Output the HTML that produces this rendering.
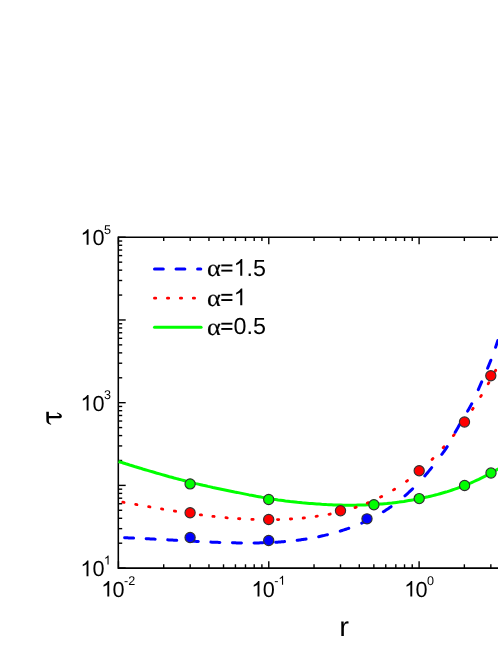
<!DOCTYPE html>
<html><head><meta charset="utf-8"><title>chart</title>
<style>
html,body{margin:0;padding:0;background:#fff;}
body{width:498px;height:645px;overflow:hidden;}
svg{display:block;will-change:transform;text-rendering:geometricPrecision;font-family:"Liberation Sans",sans-serif;}
</style></head><body>
<svg width="498" height="645" viewBox="0 0 498 645">
<rect width="498" height="645" fill="#fff"/>
<g stroke="#000" fill="none" stroke-linecap="butt">
<line x1="118.3" y1="236.4" x2="118.3" y2="568.95" stroke-width="1.55"/>
<line x1="118.3" y1="237.25" x2="503" y2="237.25" stroke-width="1.7"/>
<line x1="118.3" y1="568.1" x2="503" y2="568.1" stroke-width="1.7"/>
</g>
<g stroke="#000" stroke-width="1.4" fill="none">
<line x1="118.3" y1="568.10" x2="125.7" y2="568.10"/>
<line x1="118.3" y1="543.20" x2="122.2" y2="543.20"/>
<line x1="118.3" y1="528.64" x2="122.2" y2="528.64"/>
<line x1="118.3" y1="518.30" x2="122.2" y2="518.30"/>
<line x1="118.3" y1="510.29" x2="122.2" y2="510.29"/>
<line x1="118.3" y1="503.74" x2="122.2" y2="503.74"/>
<line x1="118.3" y1="498.20" x2="122.2" y2="498.20"/>
<line x1="118.3" y1="493.40" x2="122.2" y2="493.40"/>
<line x1="118.3" y1="489.17" x2="122.2" y2="489.17"/>
<line x1="118.3" y1="485.39" x2="125.7" y2="485.39"/>
<line x1="118.3" y1="460.49" x2="122.2" y2="460.49"/>
<line x1="118.3" y1="445.92" x2="122.2" y2="445.92"/>
<line x1="118.3" y1="435.59" x2="122.2" y2="435.59"/>
<line x1="118.3" y1="427.57" x2="122.2" y2="427.57"/>
<line x1="118.3" y1="421.02" x2="122.2" y2="421.02"/>
<line x1="118.3" y1="415.49" x2="122.2" y2="415.49"/>
<line x1="118.3" y1="410.69" x2="122.2" y2="410.69"/>
<line x1="118.3" y1="406.46" x2="122.2" y2="406.46"/>
<line x1="118.3" y1="402.68" x2="125.7" y2="402.68"/>
<line x1="118.3" y1="377.78" x2="122.2" y2="377.78"/>
<line x1="118.3" y1="363.21" x2="122.2" y2="363.21"/>
<line x1="118.3" y1="352.88" x2="122.2" y2="352.88"/>
<line x1="118.3" y1="344.86" x2="122.2" y2="344.86"/>
<line x1="118.3" y1="338.31" x2="122.2" y2="338.31"/>
<line x1="118.3" y1="332.77" x2="122.2" y2="332.77"/>
<line x1="118.3" y1="327.98" x2="122.2" y2="327.98"/>
<line x1="118.3" y1="323.75" x2="122.2" y2="323.75"/>
<line x1="118.3" y1="319.96" x2="125.7" y2="319.96"/>
<line x1="118.3" y1="295.06" x2="122.2" y2="295.06"/>
<line x1="118.3" y1="280.50" x2="122.2" y2="280.50"/>
<line x1="118.3" y1="270.16" x2="122.2" y2="270.16"/>
<line x1="118.3" y1="262.15" x2="122.2" y2="262.15"/>
<line x1="118.3" y1="255.60" x2="122.2" y2="255.60"/>
<line x1="118.3" y1="250.06" x2="122.2" y2="250.06"/>
<line x1="118.3" y1="245.27" x2="122.2" y2="245.27"/>
<line x1="118.3" y1="241.03" x2="122.2" y2="241.03"/>
<line x1="118.3" y1="237.25" x2="125.7" y2="237.25"/>
<line x1="118.45" y1="568.1" x2="118.45" y2="561.2"/>
<line x1="118.45" y1="237.25" x2="118.45" y2="244.15"/>
<line x1="163.70" y1="568.1" x2="163.70" y2="564.3000000000001"/>
<line x1="163.70" y1="237.25" x2="163.70" y2="241.05"/>
<line x1="190.18" y1="568.1" x2="190.18" y2="564.3000000000001"/>
<line x1="190.18" y1="237.25" x2="190.18" y2="241.05"/>
<line x1="208.96" y1="568.1" x2="208.96" y2="564.3000000000001"/>
<line x1="208.96" y1="237.25" x2="208.96" y2="241.05"/>
<line x1="223.53" y1="568.1" x2="223.53" y2="564.3000000000001"/>
<line x1="223.53" y1="237.25" x2="223.53" y2="241.05"/>
<line x1="235.43" y1="568.1" x2="235.43" y2="564.3000000000001"/>
<line x1="235.43" y1="237.25" x2="235.43" y2="241.05"/>
<line x1="245.49" y1="568.1" x2="245.49" y2="564.3000000000001"/>
<line x1="245.49" y1="237.25" x2="245.49" y2="241.05"/>
<line x1="254.21" y1="568.1" x2="254.21" y2="564.3000000000001"/>
<line x1="254.21" y1="237.25" x2="254.21" y2="241.05"/>
<line x1="261.90" y1="568.1" x2="261.90" y2="564.3000000000001"/>
<line x1="261.90" y1="237.25" x2="261.90" y2="241.05"/>
<line x1="268.78" y1="568.1" x2="268.78" y2="561.2"/>
<line x1="268.78" y1="237.25" x2="268.78" y2="244.15"/>
<line x1="314.03" y1="568.1" x2="314.03" y2="564.3000000000001"/>
<line x1="314.03" y1="237.25" x2="314.03" y2="241.05"/>
<line x1="340.51" y1="568.1" x2="340.51" y2="564.3000000000001"/>
<line x1="340.51" y1="237.25" x2="340.51" y2="241.05"/>
<line x1="359.29" y1="568.1" x2="359.29" y2="564.3000000000001"/>
<line x1="359.29" y1="237.25" x2="359.29" y2="241.05"/>
<line x1="373.86" y1="568.1" x2="373.86" y2="564.3000000000001"/>
<line x1="373.86" y1="237.25" x2="373.86" y2="241.05"/>
<line x1="385.76" y1="568.1" x2="385.76" y2="564.3000000000001"/>
<line x1="385.76" y1="237.25" x2="385.76" y2="241.05"/>
<line x1="395.82" y1="568.1" x2="395.82" y2="564.3000000000001"/>
<line x1="395.82" y1="237.25" x2="395.82" y2="241.05"/>
<line x1="404.54" y1="568.1" x2="404.54" y2="564.3000000000001"/>
<line x1="404.54" y1="237.25" x2="404.54" y2="241.05"/>
<line x1="412.23" y1="568.1" x2="412.23" y2="564.3000000000001"/>
<line x1="412.23" y1="237.25" x2="412.23" y2="241.05"/>
<line x1="419.11" y1="568.1" x2="419.11" y2="561.2"/>
<line x1="419.11" y1="237.25" x2="419.11" y2="244.15"/>
<line x1="464.36" y1="568.1" x2="464.36" y2="564.3000000000001"/>
<line x1="464.36" y1="237.25" x2="464.36" y2="241.05"/>
<line x1="490.84" y1="568.1" x2="490.84" y2="564.3000000000001"/>
<line x1="490.84" y1="237.25" x2="490.84" y2="241.05"/>
</g>
<g fill="none" stroke-width="3.0">
<path d="M118.5,461.5 L120.9,462.2 L123.3,463.0 L125.8,463.8 L128.2,464.5 L130.6,465.3 L133.0,466.0 L135.4,466.8 L137.8,467.5 L140.3,468.2 L142.7,469.0 L145.1,469.7 L147.5,470.4 L149.9,471.1 L152.4,471.8 L154.8,472.5 L157.2,473.3 L159.6,473.9 L162.0,474.6 L164.4,475.3 L166.9,476.0 L169.3,476.7 L171.7,477.3 L174.1,478.0 L176.5,478.6 L179.0,479.3 L181.4,479.9 L183.8,480.5 L186.2,481.2 L188.6,481.8 L191.0,482.4 L193.5,483.0 L195.9,483.6 L198.3,484.1 L200.7,484.7 L203.1,485.3 L205.6,485.8 L208.0,486.4 L210.4,486.9 L212.8,487.5 L215.2,488.0 L217.6,488.5 L220.1,489.0 L222.5,489.5 L224.9,490.0 L227.3,490.5 L229.7,491.0 L232.2,491.5 L234.6,492.0 L237.0,492.4 L239.4,492.9 L241.8,493.4 L244.2,493.9 L246.7,494.4 L249.1,494.9 L251.5,495.3 L253.9,495.8 L256.3,496.3 L258.8,496.7 L261.2,497.1 L263.6,497.6 L266.0,498.0 L268.4,498.4 L270.8,498.8 L273.3,499.2 L275.7,499.5 L278.1,499.9 L280.5,500.2 L282.9,500.5 L285.4,500.9 L287.8,501.2 L290.2,501.5 L292.6,501.7 L295.0,502.0 L297.4,502.3 L299.9,502.5 L302.3,502.8 L304.7,503.0 L307.1,503.2 L309.5,503.4 L312.0,503.6 L314.4,503.8 L316.8,504.0 L319.2,504.1 L321.6,504.3 L324.1,504.4 L326.5,504.6 L328.9,504.7 L331.3,504.8 L333.7,504.9 L336.1,505.0 L338.6,505.1 L341.0,505.1 L343.4,505.2 L345.8,505.2 L348.2,505.2 L350.7,505.2 L353.1,505.2 L355.5,505.2 L357.9,505.1 L360.3,505.1 L362.7,505.0 L365.2,504.9 L367.6,504.8 L370.0,504.7 L372.4,504.6 L374.8,504.4 L377.3,504.3 L379.7,504.1 L382.1,503.9 L384.5,503.7 L386.9,503.5 L389.3,503.2 L391.8,503.0 L394.2,502.7 L396.6,502.4 L399.0,502.1 L401.4,501.7 L403.9,501.4 L406.3,501.0 L408.7,500.6 L411.1,500.2 L413.5,499.8 L415.9,499.3 L418.4,498.9 L420.8,498.4 L423.2,497.9 L425.6,497.3 L428.0,496.8 L430.5,496.2 L432.9,495.6 L435.3,495.0 L437.7,494.4 L440.1,493.7 L442.5,493.0 L445.0,492.3 L447.4,491.6 L449.8,490.8 L452.2,490.0 L454.6,489.2 L457.1,488.3 L459.5,487.4 L461.9,486.5 L464.3,485.6 L466.7,484.6 L469.1,483.6 L471.6,482.6 L474.0,481.5 L476.4,480.4 L478.8,479.3 L481.2,478.1 L483.7,476.9 L486.1,475.7 L488.5,474.4 L490.9,473.1 L493.3,471.8 L495.7,470.4 L498.2,469.0 L500.6,467.5 L503.0,466.0" stroke="#00ff00" stroke-linejoin="round"/>
<path d="M122.76,502.16 L124.04,502.39 M135.66,504.45 L136.94,504.68 M148.66,506.74 L149.94,506.96 M161.46,508.92 L162.74,509.14 M174.36,511.03 L175.64,511.23 M187.26,512.99 L188.54,513.18 M200.26,514.79 L201.54,514.96 M212.85,516.33 L214.15,516.47 M225.95,517.67 L227.25,517.78 M238.55,518.66 L239.85,518.75 M251.85,519.37 L253.15,519.42 M264.65,519.67 L265.95,519.68 M277.45,519.57 L278.75,519.54 M290.35,519.02 L291.65,518.94 M303.15,517.99 L304.45,517.85 M316.06,516.41 L317.34,516.23 M328.96,514.26 L330.24,514.01 M341.97,511.37 L343.23,511.04 M354.98,507.61 L356.22,507.20 M367.30,503.11 L368.50,502.62 M380.52,497.12 L381.68,496.54 M393.55,489.90 L394.65,489.22 M406.47,481.29 L407.52,480.53 M419.31,471.18 L420.29,470.33 M432.04,459.46 L432.96,458.54 M443.17,447.73 L444.03,446.76 M453.39,435.63 L454.20,434.61 M463.12,422.87 L463.88,421.81 M472.44,409.42 L473.16,408.33 M480.66,396.52 L481.34,395.41 M488.18,383.83 L488.82,382.70 M495.09,371.37 L495.71,370.22" stroke="#ff0000" stroke-linecap="round" stroke-width="2.8"/>
<path d="M124.60,537.76 L125.60,537.79 L126.60,537.83 L127.60,537.87 L128.60,537.90 L129.60,537.94 L130.59,537.98 L131.59,538.02 L132.59,538.06 L133.59,538.11 M146.17,538.69 L147.17,538.74 L148.17,538.79 L149.16,538.84 L150.16,538.89 L151.16,538.94 L152.16,538.99 L153.16,539.05 L154.16,539.10 L155.16,539.15 M167.74,539.84 L168.74,539.90 L169.73,539.95 L170.73,540.01 L171.73,540.07 L172.73,540.12 L173.73,540.18 L174.73,540.23 L175.73,540.29 L176.72,540.35 M189.31,541.04 L190.31,541.09 L191.31,541.14 L192.30,541.20 L193.30,541.25 L194.30,541.30 L195.30,541.35 L196.30,541.40 L197.30,541.45 L198.30,541.50 M210.88,542.09 L211.88,542.13 L212.88,542.17 L213.88,542.21 L214.88,542.25 L215.87,542.29 L216.87,542.33 L217.87,542.36 L218.87,542.40 L219.87,542.43 M232.45,542.80 L233.45,542.82 L234.45,542.84 L235.45,542.86 L236.45,542.88 L237.45,542.90 L238.45,542.91 L239.45,542.93 L240.45,542.94 L241.45,542.95 M254.02,542.97 L255.02,542.96 L256.02,542.94 L257.02,542.93 L258.02,542.91 L259.02,542.89 L260.02,542.87 L261.02,542.85 L262.02,542.82 L263.02,542.80 M275.59,542.25 L276.59,542.19 L277.58,542.13 L278.58,542.06 L279.58,541.99 L280.58,541.92 L281.57,541.85 L282.57,541.77 L283.57,541.69 L284.56,541.60 M297.15,540.28 L298.14,540.15 L299.13,540.02 L300.12,539.89 L301.11,539.75 L302.10,539.61 L303.09,539.47 L304.08,539.32 L305.07,539.17 L306.06,539.01 M318.70,536.68 L319.68,536.47 L320.65,536.26 L321.63,536.05 L322.61,535.83 L323.58,535.60 L324.55,535.37 L325.53,535.14 L326.50,534.91 L327.47,534.67 M340.23,531.09 L341.19,530.79 L342.14,530.48 L343.09,530.18 L344.04,529.86 L344.99,529.55 L345.94,529.22 L346.88,528.90 L347.83,528.57 L348.77,528.24 M361.75,523.10 L362.66,522.70 L363.57,522.29 L364.49,521.88 L365.39,521.46 L366.30,521.04 L367.20,520.61 L368.10,520.18 L369.00,519.74 L369.90,519.29 M383.38,511.76 L384.25,511.22 L385.11,510.67 L385.98,510.11 L386.83,509.55 L387.69,508.99 L388.54,508.42 L389.39,507.84 L390.24,507.26 L391.08,506.67 M404.94,495.82 L405.81,495.06 L406.68,494.29 L407.54,493.52 L408.40,492.74 L409.26,491.95 L410.11,491.16 L410.95,490.37 L411.79,489.57 L412.63,488.76 M424.79,475.90 L425.57,475.00 L426.35,474.09 L427.12,473.18 L427.89,472.27 L428.66,471.35 L429.42,470.42 L430.17,469.50 L430.92,468.57 L431.67,467.64 M441.80,454.37 L442.43,453.54 L443.05,452.70 L443.67,451.86 L444.28,451.01 L444.89,450.16 L445.49,449.30 L446.07,448.43 L446.65,447.56 L447.21,446.68 M455.22,432.28 L455.80,431.25 L456.38,430.22 L456.96,429.19 L457.55,428.17 L458.14,427.15 L458.73,426.12 L459.33,425.10 L459.93,424.09 L460.53,423.07 M467.66,411.09 L468.12,410.28 L468.59,409.47 L469.05,408.66 L469.50,407.85 L469.96,407.04 L470.40,406.22 L470.85,405.40 L471.28,404.58 L471.72,403.75 M478.30,389.65 L478.68,388.78 L479.06,387.91 L479.44,387.03 L479.82,386.16 L480.19,385.29 L480.57,384.42 L480.95,383.54 L481.33,382.67 L481.70,381.80 M487.59,368.22 L487.96,367.34 L488.33,366.45 L488.70,365.56 L489.07,364.68 L489.43,363.79 L489.79,362.90 L490.15,362.01 L490.50,361.11 L490.86,360.22 M495.59,347.27 L495.84,346.51 L496.10,345.76 L496.35,345.01 L496.60,344.25 L496.85,343.50 L497.10,342.74 L497.35,341.99 L497.60,341.23 L497.84,340.48" stroke="#0000ff" stroke-linecap="round" stroke-linejoin="round"/>
</g>
<g stroke="#303030" stroke-width="1.15">
<circle cx="190.1" cy="483.9" r="5.1" fill="#00ff00"/>
<circle cx="268.7" cy="499.5" r="5.1" fill="#00ff00"/>
<circle cx="373.9" cy="504.7" r="5.1" fill="#00ff00"/>
<circle cx="419.2" cy="498.6" r="5.1" fill="#00ff00"/>
<circle cx="464.6" cy="485.5" r="5.1" fill="#00ff00"/>
<circle cx="491.0" cy="473.0" r="5.1" fill="#00ff00"/>
<circle cx="190.1" cy="512.8" r="5.1" fill="#ff0000"/>
<circle cx="268.7" cy="519.5" r="5.1" fill="#ff0000"/>
<circle cx="340.5" cy="510.7" r="5.1" fill="#ff0000"/>
<circle cx="419.2" cy="470.7" r="5.1" fill="#ff0000"/>
<circle cx="464.5" cy="422.0" r="5.1" fill="#ff0000"/>
<circle cx="490.8" cy="375.8" r="5.1" fill="#ff0000"/>
<circle cx="190.1" cy="537.5" r="5.1" fill="#0000ff"/>
<circle cx="268.7" cy="540.5" r="5.1" fill="#0000ff"/>
<circle cx="367.0" cy="518.8" r="5.1" fill="#0000ff"/>
</g>
<g fill="none" stroke-width="3.0" stroke-linecap="round">
<path d="M154.5,269 H200.8" stroke="#0000ff" stroke-dasharray="8.8 12.75"/>
<path d="M154.45,298.2 H196" stroke="#ff0000" stroke-width="2.8" stroke-dasharray="1.3 11.65"/>
<path d="M154.5,327.3 H201.1" stroke="#00ff00"/>
</g>
<g fill="#000">
<path transform="translate(80.46,244.8) scale(0.01060,-0.01060)" d="M763 0H583V1147Q518 1085 412.5 1023T223 930V1104Q373 1174.5 485 1275T644 1470H763Z"/><text x="92.53" y="244.8" font-size="21.7">0</text><text x="104.00" y="234.0" font-size="12.6">5</text>
<path transform="translate(80.46,410.5) scale(0.01060,-0.01060)" d="M763 0H583V1147Q518 1085 412.5 1023T223 930V1104Q373 1174.5 485 1275T644 1470H763Z"/><text x="92.53" y="410.5" font-size="21.7">0</text><text x="104.00" y="398.7" font-size="12.6">3</text>
<path transform="translate(80.36,576.2) scale(0.01060,-0.01060)" d="M763 0H583V1147Q518 1085 412.5 1023T223 930V1104Q373 1174.5 485 1275T644 1470H763Z"/><text x="92.43" y="576.2" font-size="21.7">0</text><path transform="translate(103.90,564.6) scale(0.00615,-0.00615)" d="M763 0H583V1147Q518 1085 412.5 1023T223 930V1104Q373 1174.5 485 1275T644 1470H763Z"/>
<path transform="translate(101.16,596.6) scale(0.01060,-0.01060)" d="M763 0H583V1147Q518 1085 412.5 1023T223 930V1104Q373 1174.5 485 1275T644 1470H763Z"/><text x="112.53" y="596.6" font-size="21.7">0</text><text x="124.00" y="584.8" font-size="12.6">-2</text>
<path transform="translate(251.36,596.6) scale(0.01060,-0.01060)" d="M763 0H583V1147Q518 1085 412.5 1023T223 930V1104Q373 1174.5 485 1275T644 1470H763Z"/><text x="262.73" y="596.6" font-size="21.7">0</text><text x="274.20" y="584.8" font-size="12.6">-</text><path transform="translate(278.40,584.8) scale(0.00615,-0.00615)" d="M763 0H583V1147Q518 1085 412.5 1023T223 930V1104Q373 1174.5 485 1275T644 1470H763Z"/>
<path transform="translate(404.16,596.6) scale(0.01060,-0.01060)" d="M763 0H583V1147Q518 1085 412.5 1023T223 930V1104Q373 1174.5 485 1275T644 1470H763Z"/><text x="415.53" y="596.6" font-size="21.7">0</text><text x="427.00" y="584.8" font-size="12.6">0</text>
<text transform="translate(206.9,276.3) scale(1.1,1)" font-family="Liberation Serif" font-size="24" stroke="#000" stroke-width="0.22">α</text><rect x="221.3" y="264.45" width="11.1" height="1.9"/><rect x="221.3" y="269.70" width="11.1" height="1.9"/><path transform="translate(233.61,275.8) scale(0.01138,-0.01138)" d="M763 0H583V1147Q518 1085 412.5 1023T223 930V1104Q373 1174.5 485 1275T644 1470H763Z"/><text x="246.57" y="275.8" font-size="23.3">.5</text>
<text transform="translate(206.9,305.7) scale(1.1,1)" font-family="Liberation Serif" font-size="24" stroke="#000" stroke-width="0.22">α</text><rect x="221.3" y="293.85" width="11.1" height="1.9"/><rect x="221.3" y="299.10" width="11.1" height="1.9"/><path transform="translate(233.61,305.2) scale(0.01138,-0.01138)" d="M763 0H583V1147Q518 1085 412.5 1023T223 930V1104Q373 1174.5 485 1275T644 1470H763Z"/>
<text transform="translate(206.9,334.6) scale(1.1,1)" font-family="Liberation Serif" font-size="24" stroke="#000" stroke-width="0.22">α</text><rect x="221.3" y="322.75" width="11.1" height="1.9"/><rect x="221.3" y="328.00" width="11.1" height="1.9"/><text x="233.61" y="334.1" font-size="23.3">0.5</text>
<text transform="translate(339.3,636.2) scale(1.07,1)" font-size="27.4">r</text>
<g transform="translate(30,400) scale(0.09033)">
<path d="M180,131 L209,131 L209,232 Q210,256 236,267 L231,274 Q196,266 185,246 Q181,236 181,214 Z"/>
<path d="M204,178 L314,178 Q326,178 326,171 Q325,160 296,148 L300,139 Q352,153 353,180 Q353,203 318,203 L204,203 Z"/>
</g>
</g>
</svg>
</body></html>
